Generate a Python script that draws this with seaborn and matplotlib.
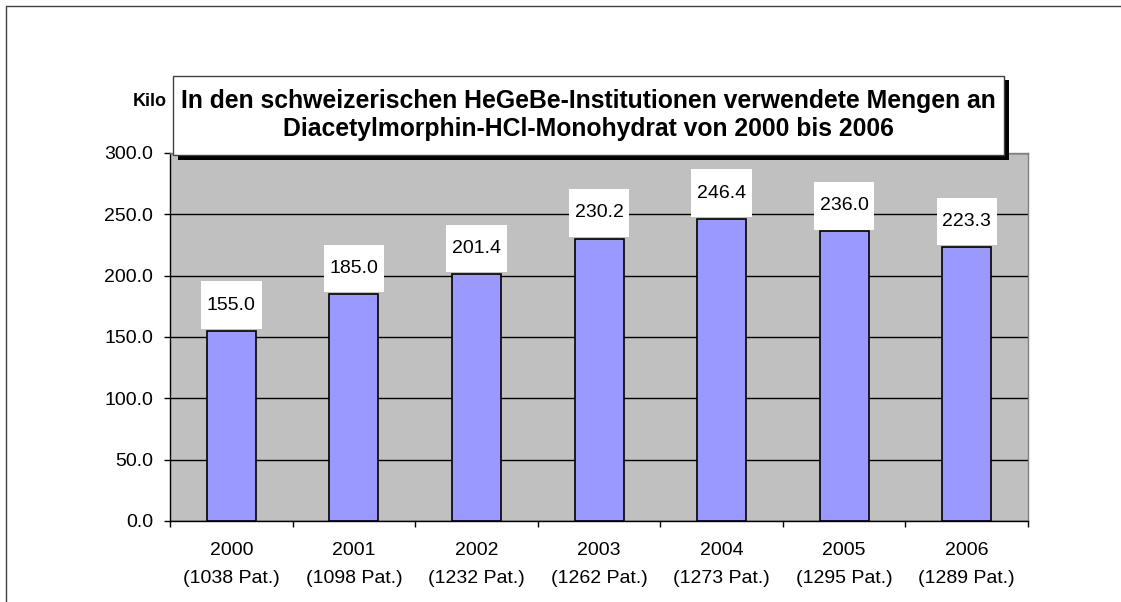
# plot.py
import pandas as pd
import seaborn as sns
import matplotlib.pyplot as plt
from matplotlib.patches import Rectangle
from matplotlib.lines import Line2D
from matplotlib.ticker import MultipleLocator, FormatStrFormatter

# data
years = ['2000', '2001', '2002', '2003', '2004', '2005', '2006']
patients = [1038, 1098, 1232, 1262, 1273, 1295, 1289]
kilos = [155.0, 185.0, 201.4, 230.2, 246.4, 236.0, 223.3]

labels = [f'{y}\n({p} Pat.)' for y, p in zip(years, patients)]
df = pd.DataFrame({'Jahr': labels, 'Kilo': kilos})

sns.set_style('white')
plt.rcParams['font.family'] = ['Liberation Sans', 'DejaVu Sans']
plt.rcParams['text.color'] = 'black'
plt.rcParams['xtick.color'] = 'black'
plt.rcParams['ytick.color'] = 'black'

fig = plt.figure(figsize=(11.21, 6.02), dpi=100)
ax = fig.add_axes([0.1517, 0.1346, 0.7654, 0.6113])
ax.set_facecolor('#C0C0C0')

sns.barplot(data=df, x='Jahr', y='Kilo', color='#9999FF', edgecolor='black',
            linewidth=1.2, width=0.4, saturation=1, ax=ax)

ax.set_ylim(0, 300)
ax.set_xlim(-0.5, len(years) - 0.5)
ax.yaxis.set_major_locator(MultipleLocator(50))
ax.yaxis.set_major_formatter(FormatStrFormatter('%.1f'))
ax.grid(axis='y', color='black', linewidth=1)
ax.set_axisbelow(True)
ax.set_xlabel('')
ax.set_ylabel('')

for side in ['top', 'right']:
    ax.spines[side].set_color('#808080')
    ax.spines[side].set_linewidth(1)
for side in ['left', 'bottom']:
    ax.spines[side].set_color('black')
    ax.spines[side].set_linewidth(1)

ax.tick_params(axis='y', which='major', direction='out', length=4.3, width=1,
               labelsize=14, pad=8, left=True)
ax.set_xticks(range(len(years)), labels, linespacing=1.85)
ax.tick_params(axis='x', which='major', length=0, labelsize=14, pad=15)
ax.set_xticks([i - 0.5 for i in range(len(years) + 1)], minor=True)
ax.tick_params(axis='x', which='minor', direction='out', length=4.3, width=1,
               bottom=True)

# value labels in tall white boxes
value_texts = ['\n%.1f\n' % v for v in kilos]
ax.bar_label(ax.containers[0], labels=value_texts, fontsize=14,
             padding=5.5, linespacing=0.42,
             bbox=dict(boxstyle='square,pad=0.3', facecolor='white',
                       edgecolor='none'))

# title box with black drop shadow
fig.add_artist(Rectangle((178 / 1121, 1 - 160 / 602), 831 / 1121, 80 / 602,
                         transform=fig.transFigure, facecolor='black',
                         edgecolor='none', zorder=5))
fig.add_artist(Rectangle((173 / 1121, 1 - 155 / 602), 831 / 1121, 79 / 602,
                         transform=fig.transFigure, facecolor='white',
                         edgecolor='#404040', linewidth=1, zorder=6))
fig.text(588 / 1121, 1 - 115 / 602,
         'In den schweizerischen HeGeBe-Institutionen verwendete Mengen an\n'
         'Diacetylmorphin-HCl-Monohydrat von 2000 bis 2006',
         ha='center', va='center', fontsize=17.8, fontweight='bold',
         linespacing=1.2, zorder=7)
fig.text(150 / 1121, 1 - 101 / 602, 'Kilo', ha='center', va='center',
         fontsize=13, fontweight='bold')

# outer chart border (left and top edges)
fig.add_artist(Line2D([6 / 1121, 6 / 1121], [0, 1 - 6 / 602],
                      transform=fig.transFigure, color='#404040', linewidth=1))
fig.add_artist(Line2D([6 / 1121, 1], [1 - 6 / 602, 1 - 6 / 602],
                      transform=fig.transFigure, color='#404040', linewidth=1))

fig.savefig('out.png', dpi=100)
